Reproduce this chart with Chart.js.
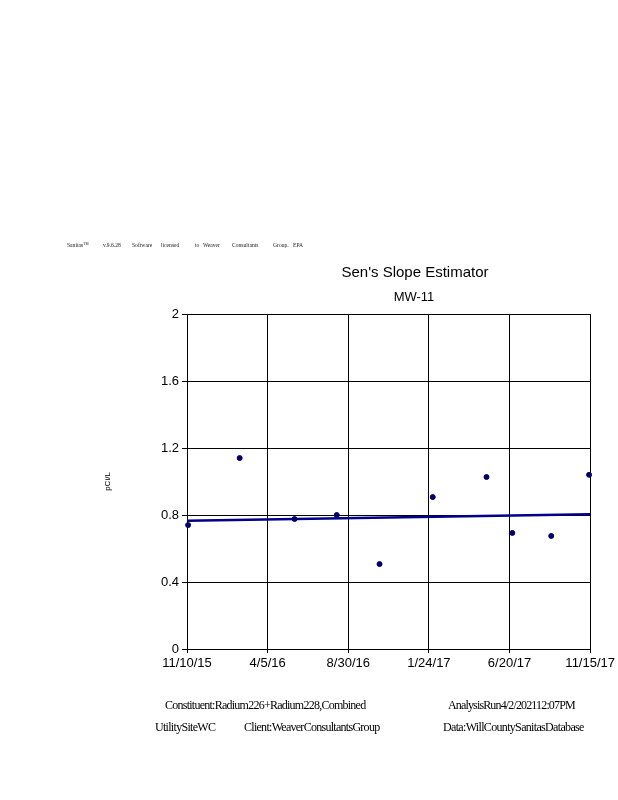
<!DOCTYPE html>
<html>
<head>
<meta charset="utf-8">
<script src="https://cdn.jsdelivr.net/npm/chart.js@4"></script>
<style>
  body { margin: 0; background: #fff; }
  #wrap { position: relative; width: 618px; height: 800px; overflow: hidden; }
  #chart { position: absolute; left: 0; top: 0; }
  .txt { position: absolute; white-space: nowrap; color: #000; }
  .hdr { font-family: "Liberation Serif", serif; font-size: 7px; top: 241px; color: #222;
         transform: scaleX(0.8); transform-origin: left top; }
  .ttl { font-family: "Liberation Sans", Arial, sans-serif; transform: translateX(-50%); }
  .ftr { font-family: "Liberation Serif", serif; font-size: 12px; }
</style>
</head>
<body>
<div id="wrap">
  <canvas id="chart" width="618" height="800"></canvas>

  <div class="txt hdr" style="left:67px">Sanitas™</div>
  <div class="txt hdr" style="left:103px">v.9.6.28</div>
  <div class="txt hdr" style="left:132px">Software</div>
  <div class="txt hdr" style="left:161px">licensed</div>
  <div class="txt hdr" style="left:195px">to</div>
  <div class="txt hdr" style="left:203px">Weaver</div>
  <div class="txt hdr" style="left:232px">Consultants</div>
  <div class="txt hdr" style="left:273px">Group.</div>
  <div class="txt hdr" style="left:293px">EPA</div>

  <div class="txt ttl" style="left:415px; top:263px; font-size:15px">Sen's Slope Estimator</div>
  <div class="txt ttl" style="left:414px; top:289px; font-size:13px">MW-11</div>

  <div class="txt ftr" style="left:165px; top:698px; letter-spacing:-0.75px">Constituent:Radium226+Radium228,Combined</div>
  <div class="txt ftr" style="left:448px; top:698px; letter-spacing:-0.85px">AnalysisRun4/2/202112:07PM</div>
  <div class="txt ftr" style="left:155px; top:720px; letter-spacing:-0.7px">UtilitySiteWC</div>
  <div class="txt ftr" style="left:244px; top:720px; letter-spacing:-0.72px">Client:WeaverConsultantsGroup</div>
  <div class="txt ftr" style="left:443px; top:720px; letter-spacing:-0.67px">Data:WillCountySanitasDatabase</div>
</div>

<script>
const startDate = '2015-11-10';
const sampleDates = ['2015-11-12', '2016-02-14', '2016-05-24', '2016-08-09', '2016-10-26',
                     '2017-01-31', '2017-05-09', '2017-06-25', '2017-09-04', '2017-11-12'];
const sampleValues = [0.74, 1.14, 0.776, 0.80, 0.507, 0.907, 1.027, 0.693, 0.675, 1.04];

const trendDates = ['2015-11-10', '2017-11-14'];
const trendValues = [0.765, 0.805];

const xTickLabels = ['11/10/15', '4/5/16', '8/30/16', '1/24/17', '6/20/17', '11/15/17'];
const xTickStep = 147;
const yTicks = [0, 0.4, 0.8, 1.2, 1.6, 2];

function dayNum(d) {
    return Math.round((Date.parse(d) - Date.parse(startDate)) / 86400000);
}

const points = sampleDates.map((d, i) => ({ x: dayNum(d), y: sampleValues[i] }));
const trend = trendDates.map((d, i) => ({ x: dayNum(d), y: trendValues[i] }));

const ctx = document.getElementById('chart').getContext('2d');
new Chart(ctx, {
    type: 'scatter',
    data: {
        datasets: [{
            label: 'Samples',
            data: points,
            backgroundColor: '#000066',
            borderColor: '#000066',
            pointRadius: 2.5,
            pointHoverRadius: 2.5,
            clip: false
        }, {
            type: 'line',
            label: 'Sen slope',
            data: trend,
            borderColor: '#000088',
            borderWidth: 2.5,
            pointRadius: 0,
            fill: false
        }]
    },
    options: {
        responsive: false,
        animation: false,
        events: [],
        layout: { padding: { left: 100, right: 27, top: 314, bottom: 121 } },
        plugins: { legend: { display: false }, tooltip: { enabled: false } },
        scales: {
            x: {
                type: 'linear',
                min: 0,
                max: xTickStep * (xTickLabels.length - 1),
                afterBuildTicks: s => { s.ticks = xTickLabels.map((_, i) => ({ value: i * xTickStep })); },
                afterFit: s => { s.height = 30; },
                ticks: {
                    autoSkip: false,
                    maxRotation: 0,
                    padding: 3,
                    color: '#000',
                    font: { family: 'Liberation Sans', size: 13 },
                    callback: (v) => xTickLabels[Math.round(v / xTickStep)]
                },
                grid: { color: '#000', lineWidth: 1, tickLength: 4 },
                border: { color: '#000', width: 1 }
            },
            y: {
                min: 0,
                max: 2,
                afterBuildTicks: s => { s.ticks = yTicks.map(v => ({ value: v })); },
                afterFit: s => { s.width = 87; },
                ticks: {
                    padding: 3,
                    color: '#000',
                    font: { family: 'Liberation Sans', size: 13 },
                    callback: v => String(v)
                },
                grid: { color: '#000', lineWidth: 1, tickLength: 5 },
                border: { color: '#000', width: 1 },
                title: {
                    display: true,
                    text: 'pCi/L',
                    color: '#000',
                    font: { family: 'Liberation Sans', size: 8 },
                    padding: { top: 3, bottom: 0 }
                }
            }
        }
    }
});
</script>
</body>
</html>
